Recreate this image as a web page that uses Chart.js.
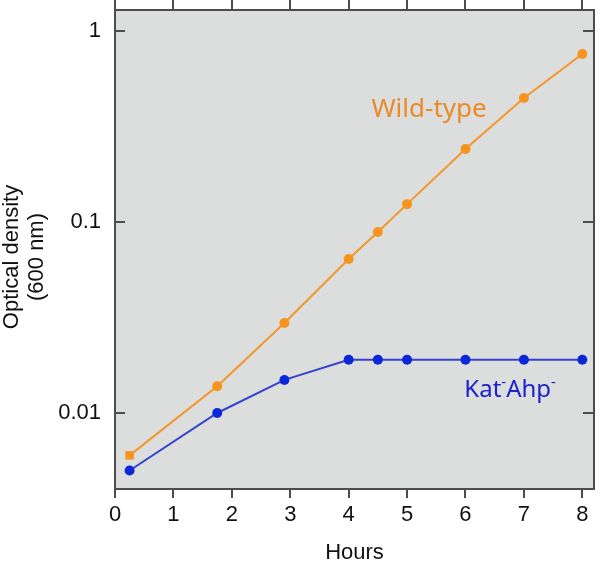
<!DOCTYPE html>
<html>
<head>
<meta charset="utf-8">
<script src="https://cdn.jsdelivr.net/npm/chart.js@4.4.1/dist/chart.umd.min.js"></script>
<style>
  html, body { margin: 0; padding: 0; background: #fff; }
  #wrap { width: 600px; height: 570px; }
</style>
</head>
<body>
<div id="wrap"><canvas id="odChart" width="600" height="570"></canvas></div>
<script>
// growth curves
const wildHours = [0.25, 1.75, 2.9, 4, 4.5, 5, 6, 7, 8];
const wildOD = [0.006, 0.0138, 0.0296, 0.064, 0.0886, 0.124, 0.241, 0.446, 0.758];
const mutantHours = [0.25, 1.75, 2.9, 4, 4.5, 5, 6, 7, 8];
const mutantOD = [0.005, 0.01, 0.0149, 0.019, 0.019, 0.019, 0.019, 0.019, 0.019];
const hourTicks = [0, 1, 2, 3, 4, 5, 6, 7, 8];
const odTicks = [0.01, 0.1, 1];

const AXIS = "#4d4d4d";
const FONT = "'Liberation Sans', Arial, sans-serif";

const toPoints = (xs, ys) => xs.map((x, i) => ({ x: x, y: ys[i] }));
const setTicks = (vals) => (scale) => { scale.ticks = vals.map(v => ({ value: v })); };
// fixed box sizes, no extra room for overhanging labels
const fixBox = (w, h) => (s) => {
  if (w !== null) s.width = w;
  if (h !== null) s.height = h;
  s.paddingTop = 0; s.paddingBottom = 0; s.paddingLeft = 0; s.paddingRight = 0;
};

// grey plot panel
const panelBg = {
  id: "panelBg",
  beforeDraw(chart) {
    const { ctx, chartArea: a } = chart;
    ctx.save();
    ctx.fillStyle = "#dcdddd";
    ctx.fillRect(a.left, a.top, a.right - a.left, a.bottom - a.top);
    ctx.restore();
  }
};

// y ticks point inwards, on both sides
const innerTicks = {
  id: "innerTicks",
  afterDatasetsDraw(chart) {
    const { ctx, chartArea: a, scales } = chart;
    ctx.save();
    ctx.strokeStyle = AXIS;
    ctx.lineWidth = 2;
    odTicks.forEach(v => {
      const y = Math.round(scales.y.getPixelForValue(v));
      ctx.beginPath();
      ctx.moveTo(a.left, y); ctx.lineTo(a.left + 10, y);
      ctx.moveTo(a.right - 11, y); ctx.lineTo(a.right, y);
      ctx.stroke();
    });
    ctx.restore();
  }
};

// y axis title, two lines
const yTitle = {
  id: "yTitle",
  afterDraw(chart) {
    const { ctx } = chart;
    ctx.save();
    ctx.translate(0, 257);
    ctx.rotate(-Math.PI / 2);
    ctx.textAlign = "center";
    ctx.textBaseline = "middle";
    ctx.fillStyle = "#111";
    ctx.font = "22px " + FONT;
    ctx.fillText("Optical density", 0, 12);
    ctx.fillText("(600 nm)", 0, 37);
    ctx.restore();
  }
};

// text labels beside the curves
const curveLabels = {
  id: "curveLabels",
  afterDatasetsDraw(chart) {
    const { ctx, scales } = chart;
    ctx.save();
    ctx.textBaseline = "alphabetic";
    ctx.textAlign = "left";
    ctx.font = "26px 'Noto Sans'";
    ctx.fillStyle = "#ec8a2a";
    ctx.fillText("Wild-type", scales.x.getPixelForValue(4.39), scales.y.getPixelForValue(0.355));

    // Kat-Ahp- with superscript minus signs
    let x = scales.x.getPixelForValue(5.98);
    const y = scales.y.getPixelForValue(0.01216);
    ctx.fillStyle = "#1a22cc";
    const parts = [["Kat", false], ["-", true], ["Ahp", false], ["-", true]];
    parts.forEach(([t, sup]) => {
      ctx.font = sup ? "15px 'Noto Sans'" : "24px 'Noto Sans'";
      ctx.fillText(t, x, sup ? y - 10 : y);
      x += ctx.measureText(t).width;
    });
    ctx.restore();
  }
};

new Chart(document.getElementById("odChart"), {
  type: "line",
  data: {
    datasets: [
      {
        label: "Wild-type",
        data: toPoints(wildHours, wildOD),
        borderColor: "#f5962a",
        backgroundColor: "#f7941d",
        borderWidth: 2,
        pointRadius: wildHours.map((h, i) => i === 0 ? 6 : 5),
        pointStyle: wildHours.map((h, i) => i === 0 ? "rect" : "circle"),
        pointBorderWidth: 0,
        tension: 0
      },
      {
        label: "Kat-Ahp-",
        data: toPoints(mutantHours, mutantOD),
        borderColor: "#3344cc",
        backgroundColor: "#0a28d8",
        borderWidth: 2,
        pointRadius: 5,
        pointBorderWidth: 0,
        tension: 0
      }
    ]
  },
  options: {
    responsive: false,
    animation: false,
    devicePixelRatio: 1,
    layout: { padding: 0 },
    plugins: { legend: { display: false }, tooltip: { enabled: false } },
    scales: {
      x: {
        type: "linear", position: "bottom", min: 0, max: 8.2,
        afterBuildTicks: setTicks(hourTicks),
        afterFit: fixBox(null, 81),
        grid: { drawOnChartArea: false, color: AXIS, lineWidth: 2, tickLength: 9 },
        border: { color: AXIS, width: 2 },
        ticks: { color: "#111", padding: 4, font: { family: FONT, size: 22 } },
        title: { display: true, text: "Hours", color: "#111", padding: { top: 0, bottom: 4 }, font: { family: FONT, size: 22 } }
      },
      x2: {
        type: "linear", position: "top", min: 0, max: 8.2,
        afterBuildTicks: setTicks(hourTicks),
        afterFit: fixBox(null, 10),
        grid: { drawOnChartArea: false, color: AXIS, lineWidth: 2, tickLength: 10 },
        border: { color: AXIS, width: 2 },
        ticks: { display: false }
      },
      y: {
        type: "logarithmic", position: "left", min: 0.0040, max: 1.288,
        afterBuildTicks: setTicks(odTicks),
        afterFit: fixBox(115, null),
        grid: { drawOnChartArea: false, drawTicks: false },
        border: { color: AXIS, width: 2 },
        ticks: { color: "#111", padding: 14, font: { family: FONT, size: 22 }, callback: v => String(v) }
      },
      y2: {
        type: "logarithmic", position: "right", min: 0.0040, max: 1.288,
        afterBuildTicks: setTicks(odTicks),
        afterFit: fixBox(6, null),
        grid: { drawOnChartArea: false, drawTicks: false },
        border: { color: AXIS, width: 2 },
        ticks: { display: false }
      }
    }
  },
  plugins: [panelBg, innerTicks, curveLabels, yTitle]
});
</script>
</body>
</html>
